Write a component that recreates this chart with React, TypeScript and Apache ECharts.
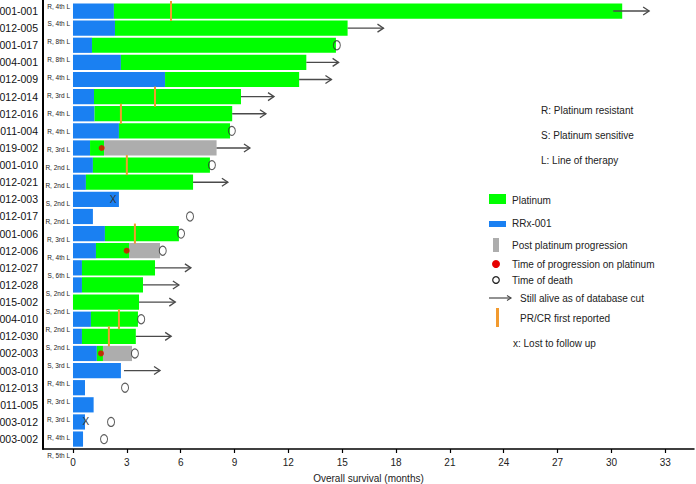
import React, { useEffect, useRef } from "react";
import * as echarts from "echarts";

const patientIds = ["001-001","012-005","001-017","004-001","012-009","012-014","012-016","011-004","019-002","001-010","012-021","012-003","012-017","001-006","012-006","012-027","012-028","015-002","004-010","012-030","002-003","003-010","012-013","011-005","003-012","003-002"];
const lineLabels = ["R, 4th L","S, 4th L","R, 8th L","R, 8th L","R, 4th L","R, 3rd L","R, 4th L","R, 4th L","R, 3rd L","R, 2nd L","R, 2nd L","S, 2nd L","R, 2nd L","R, 3rd L","R, 4th L","S, 6th L","S, 2nd L","S, 2nd L","R, 2nd L","S, 2nd L","S, 3rd L","R, 4th L","R, 3rd L","R, 3rd L","R, 4th L","R, 5th L"];
const rrxEnd = [2.28,2.34,1.06,2.67,5.13,1.17,1.2,2.56,0.95,1.11,0.72,2.56,1.11,1.78,1.28,0.5,0.5,0,1.0,0.5,1.33,2.67,0.67,1.15,0.67,0.56];
const platinumEnd: (number | null)[] = [30.6,15.3,14.65,13.0,12.6,9.36,8.87,8.75,1.73,7.63,6.69,null,null,5.9,3.12,4.57,3.9,3.68,3.62,3.5,1.67,null,null,null,null,null];
const postProgEnd: (number | null)[] = [null,null,null,null,null,null,null,null,8.0,null,null,null,null,null,4.85,null,null,null,null,null,3.29,null,null,null,null,null];
const progressionDots = [[1.6,8],[2.99,14],[1.56,20]];
const prcrMarks = [[5.46,0],[4.57,5],[2.67,6],[3.0,9],[3.45,13],[2.56,18],[2.0,19]];
const deaths = [[14.7,2],[8.85,7],[7.74,9],[6.52,12],[6.02,13],[5.0,14],[3.8,18],[3.45,20],[2.9,22],[2.12,24],[1.73,25]];
const aliveArrows = [[30.1,32.1,0],[15.3,17.3,1],[13.0,14.8,3],[12.6,14.4,4],[9.36,11.2,5],[8.87,10.75,6],[8.0,9.86,8],[6.69,8.63,10],[4.57,6.57,15],[3.9,5.9,16],[3.68,5.7,17],[3.5,5.47,19],[2.84,4.85,21]];
const lostToFollowUp = [[2.23,11],[0.72,24]];
const xTicks = [0,3,6,9,12,15,18,21,24,27,30,33];

const BLUE = "#1a80f2";
const GREEN = "#00ff00";
const GRAY = "#adadad";
const ORANGE = "#f29a2e";
const RED = "#e60000";
const FONT = "'Liberation Sans', Arial, Helvetica, sans-serif";

export default function App() {
  const ref = useRef<HTMLDivElement>(null);
  useEffect(() => {
    const chart = echarts.init(ref.current!, null, { renderer: "svg" });
    const segColors = [BLUE, GREEN, GRAY];
    const segments: number[][] = [];
    patientIds.forEach((_, i) => {
      if (rrxEnd[i] > 0) segments.push([0, rrxEnd[i], i, 0]);
      const p = platinumEnd[i];
      if (p != null) segments.push([rrxEnd[i], p, i, 1]);
      const g = postProgEnd[i];
      if (g != null && p != null) segments.push([p, g, i, 2]);
    });
    const rowIdx = patientIds.map((_, i) => i);
    const txt = (text: string, x: number, y: number) => ({
      type: "text", x, y,
      style: { text, fill: "#222", font: `10px ${FONT}`, verticalAlign: "middle" },
    });
    chart.setOption({
      animation: false,
      textStyle: { fontFamily: FONT },
      grid: [
        { left: 43, right: 2, top: 0, bottom: 35, outerBoundsMode: "none", containLabel: false },
        { left: 72, width: 100, top: 0, bottom: 24, outerBoundsMode: "none", containLabel: false },
      ],
      xAxis: [
        {
          type: "value", gridIndex: 0, min: -1.671, max: 34.6,
          axisLine: { show: true, onZero: false, lineStyle: { color: "#000", width: 1.5 } },
          axisTick: { show: true, length: 4, customValues: xTicks, lineStyle: { color: "#000", width: 1.2 } },
          axisLabel: { customValues: xTicks, fontSize: 10, color: "#222", margin: 8 },
          splitLine: { show: false },
          name: "Overall survival (months)", nameLocation: "middle", nameGap: 24,
          nameTextStyle: { fontSize: 10, color: "#222" },
        },
        { type: "value", gridIndex: 1, show: false, min: 0, max: 1 },
      ],
      yAxis: [
        {
          type: "value", gridIndex: 0, inverse: true, min: -0.643, max: 25.58,
          axisLine: { show: true, onZero: false, lineStyle: { color: "#000", width: 2 } },
          axisTick: { show: false },
          splitLine: { show: false },
          axisLabel: {
            customValues: rowIdx, fontSize: 10.5, color: "#111", margin: 5,
            padding: [0, 0, 6, 0],
            formatter: (v: number) => patientIds[Math.round(v)] ?? "",
          },
        },
        {
          type: "value", gridIndex: 1, inverse: true, min: -0.334, max: 25.264,
          axisLine: { show: false, onZero: false }, axisTick: { show: false }, splitLine: { show: false },
          axisLabel: {
            customValues: rowIdx, fontSize: 6.5, color: "#222", margin: 2,
            formatter: (v: number) => lineLabels[Math.round(v)] ?? "",
          },
        },
      ],
      series: [
        {
          type: "custom", xAxisIndex: 0, yAxisIndex: 0, data: segments,
          encode: { x: [0, 1], y: 2 },
          renderItem: (params: any, api: any) => {
            const s = api.coord([api.value(0), api.value(2)]);
            const e = api.coord([api.value(1), api.value(2)]);
            const h = api.size([0, 1])[1] * 0.89;
            return {
              type: "rect",
              shape: { x: s[0], y: s[1] - h / 2, width: e[0] - s[0], height: h },
              style: { fill: segColors[api.value(3)] },
            };
          },
        },
        {
          type: "custom", xAxisIndex: 0, yAxisIndex: 0, data: prcrMarks, z: 3,
          encode: { x: 0, y: 1 },
          renderItem: (params: any, api: any) => {
            const c = api.coord([api.value(0), api.value(1)]);
            const h = api.size([0, 1])[1] * 1.17;
            return { type: "rect", shape: { x: c[0] - 1, y: c[1] - h / 2, width: 2, height: h }, style: { fill: ORANGE } };
          },
        },
        {
          type: "custom", xAxisIndex: 0, yAxisIndex: 0, data: aliveArrows, z: 3,
          encode: { x: [0, 1], y: 2 },
          renderItem: (params: any, api: any) => {
            const s = api.coord([api.value(0), api.value(2)]);
            const e = api.coord([api.value(1), api.value(2)]);
            const st = { stroke: "#4a4a4a", lineWidth: 1.3, fill: null };
            return {
              type: "group",
              children: [
                { type: "line", shape: { x1: s[0], y1: s[1], x2: e[0], y2: e[1] }, style: st },
                { type: "polyline", shape: { points: [[e[0] - 6, e[1] - 4], [e[0], e[1]], [e[0] - 6, e[1] + 4]] }, style: st },
              ],
            };
          },
        },
        {
          type: "scatter", xAxisIndex: 0, yAxisIndex: 0, data: progressionDots, z: 4,
          symbol: "circle", symbolSize: 6, itemStyle: { color: RED },
        },
        {
          type: "scatter", xAxisIndex: 0, yAxisIndex: 0, data: deaths, z: 4,
          symbol: "circle", symbolSize: [7, 9],
          itemStyle: { color: "rgba(0,0,0,0)", borderColor: "#333", borderWidth: 1.1 },
        },
        {
          type: "custom", xAxisIndex: 0, yAxisIndex: 0, data: lostToFollowUp, z: 4,
          encode: { x: 0, y: 1 },
          renderItem: (params: any, api: any) => {
            const c = api.coord([api.value(0), api.value(1)]);
            return {
              type: "text", x: c[0], y: c[1],
              style: { text: "X", fill: "#333", font: `10px ${FONT}`, align: "center", verticalAlign: "middle" },
            };
          },
        },
      ],
      graphic: [
        txt("R: Platinum resistant", 541, 110),
        txt("S: Platinum sensitive", 541, 135),
        txt("L: Line of therapy", 541, 160),
        { type: "rect", shape: { x: 489, y: 194, width: 17, height: 10 }, style: { fill: GREEN } },
        txt("Platinum", 512, 200),
        { type: "rect", shape: { x: 489, y: 221, width: 17, height: 6 }, style: { fill: BLUE } },
        txt("RRx-001", 512, 223),
        { type: "rect", shape: { x: 493, y: 238, width: 6, height: 14 }, style: { fill: GRAY } },
        txt("Post platinum progression", 512, 245),
        { type: "circle", shape: { cx: 496, cy: 264, r: 4 }, style: { fill: RED } },
        txt("Time of progression on platinum", 512, 264),
        { type: "circle", shape: { cx: 496, cy: 280, r: 3.3 }, style: { fill: "none", stroke: "#222", lineWidth: 1.2 } },
        txt("Time of death", 512, 280),
        { type: "line", shape: { x1: 489, y1: 298, x2: 511, y2: 298 }, style: { stroke: "#4a4a4a", lineWidth: 1.2 } },
        { type: "polyline", shape: { points: [[507, 295.5], [511, 298], [507, 300.5]] }, style: { stroke: "#4a4a4a", lineWidth: 1.2, fill: null } },
        txt("Still alive as of database cut", 520, 298),
        { type: "rect", shape: { x: 496, y: 308, width: 3, height: 19 }, style: { fill: ORANGE } },
        txt("PR/CR first reported", 520, 318),
        txt("x: Lost to follow up", 513, 343),
      ],
    });
    return () => chart.dispose();
  }, []);
  return <div ref={ref} style={{ width: 696, height: 484, position: "absolute", left: 0, top: 0 }} />;
}
